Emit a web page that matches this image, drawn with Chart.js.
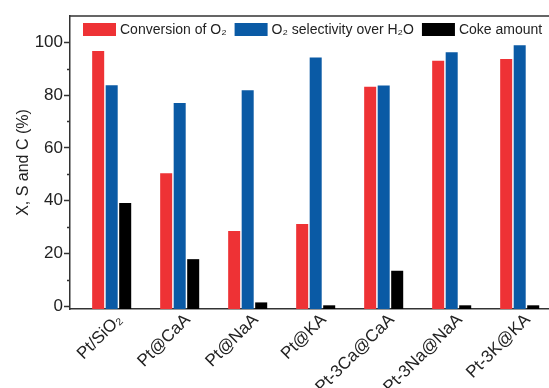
<!DOCTYPE html>
<html>
<head>
<meta charset="utf-8">
<script src="https://cdn.jsdelivr.net/npm/chart.js@4"></script>
<style>
  html, body { margin: 0; padding: 0; background: #fff; overflow: hidden; }
  #wrap { width: 549px; height: 388px; }
</style>
</head>
<body>
<div id="wrap"><canvas id="chart" width="549" height="388"></canvas></div>
<script>
// Catalyst names along the x axis
const categories = ['Pt/SiO₂', 'Pt@CaA', 'Pt@NaA', 'Pt@KA', 'Pt-3Ca@CaA', 'Pt-3Na@NaA', 'Pt-3K@KA'];

// Values (%)
const conversionO2 = [96.7, 50.4, 28.5, 31.1, 83.2, 93.0, 93.7];
const selectivityO2 = [83.7, 77.0, 81.8, 94.3, 83.6, 96.3, 98.9];
const cokeAmount = [39.1, 17.8, 1.4, 0.3, 13.4, 0.3, 0.3];

const yTicks = [0, 20, 40, 60, 80, 100];
const yMinorTicks = [10, 30, 50, 70, 90];
const yMin = -1.1;
const yMax = 110;

const seriesNames = ['Conversion of O₂', 'O₂ selectivity over H₂O', 'Coke amount'];
const seriesColors = ['#ee3235', '#0a5aa5', '#000000'];

const FONT = 'Liberation Sans, Arial, sans-serif';

function toPoints(values) {
    return values.map((v, i) => ({ x: i + 1, y: v }));
}

// Top frame line, minor ticks on the y axis and a one-row legend inside the plot
const framePlugin = {
    id: 'frame',
    afterDraw(chart) {
        const ctx = chart.ctx;
        const area = chart.chartArea;
        const y = chart.scales.y;
        ctx.save();
        ctx.strokeStyle = '#333';
        ctx.lineWidth = 1.5;
        ctx.beginPath();
        ctx.moveTo(area.left, area.top);
        ctx.lineTo(area.right, area.top);
        yMinorTicks.forEach(v => {
            const py = Math.round(y.getPixelForValue(v)) + 0.5;
            ctx.moveTo(area.left - 3, py);
            ctx.lineTo(area.left, py);
        });
        ctx.stroke();

        // legend
        ctx.font = '14px ' + FONT;
        ctx.textBaseline = 'middle';
        let lx = area.left + 13;
        const ly = area.top + 7;
        chart.data.datasets.forEach(ds => {
            ctx.fillStyle = ds.backgroundColor;
            ctx.fillRect(lx, ly, 33, 13);
            lx += 37;
            ctx.fillStyle = '#222';
            ctx.fillText(ds.label, lx, ly + 7);
            lx += ctx.measureText(ds.label).width + 8;
        });
        ctx.restore();
    }
};

const ctx = document.getElementById('chart');

new Chart(ctx.getContext('2d'), {
    type: 'bar',
    data: {
        datasets: [{
            label: seriesNames[0],
            data: toPoints(conversionO2),
            backgroundColor: seriesColors[0]
        }, {
            label: seriesNames[1],
            data: toPoints(selectivityO2),
            backgroundColor: seriesColors[1]
        }, {
            label: seriesNames[2],
            data: toPoints(cokeAmount),
            backgroundColor: seriesColors[2]
        }]
    },
    options: {
        responsive: false,
        animation: false,
        base: yMin,
        categoryPercentage: 0.596,
        barPercentage: 0.89,
        layout: {
            padding: { top: 16, right: 0, left: 0, bottom: 0 }
        },
        plugins: {
            legend: { display: false },
            tooltip: { enabled: false }
        },
        scales: {
            x: {
                type: 'linear',
                min: 0.387,
                max: 7.431,
                offset: false,
                afterFit: function(scale) {
                    scale.height = 79;
                },
                afterBuildTicks: function(scale) {
                    scale.ticks = categories.map((c, i) => ({ value: i + 1 }));
                },
                grid: { display: false },
                border: { color: '#333', width: 1.5 },
                ticks: {
                    autoSkip: false,
                    minRotation: 45,
                    maxRotation: 45,
                    labelOffset: 8,
                    padding: -7,
                    color: '#222',
                    font: { family: FONT, size: 17 },
                    callback: function(value) {
                        return categories[value - 1];
                    }
                }
            },
            y: {
                min: yMin,
                max: yMax,
                afterFit: function(scale) {
                    scale.width = 70;
                },
                afterBuildTicks: function(scale) {
                    scale.ticks = yTicks.map(v => ({ value: v }));
                },
                grid: {
                    drawOnChartArea: false,
                    drawTicks: true,
                    tickLength: 6,
                    tickColor: '#333',
                    tickWidth: 1.5
                },
                border: { color: '#333', width: 1.5 },
                ticks: {
                    padding: 1,
                    color: '#222',
                    font: { family: FONT, size: 17 }
                },
                title: {
                    display: true,
                    text: 'X, S and C (%)',
                    color: '#222',
                    padding: { top: 14, bottom: 0 },
                    font: { family: FONT, size: 16 }
                }
            }
        }
    },
    plugins: [framePlugin]
});
</script>
</body>
</html>
